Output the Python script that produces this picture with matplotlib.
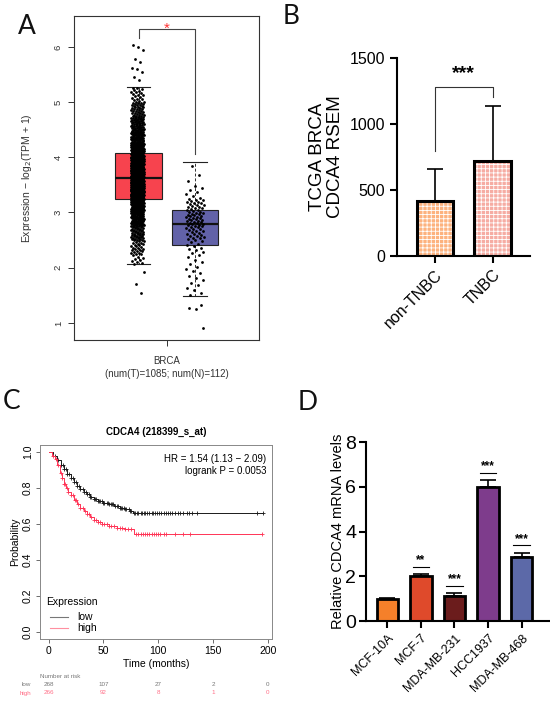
import numpy as np
import matplotlib
matplotlib.use('Agg')
import matplotlib.pyplot as plt
from matplotlib.transforms import blended_transform_factory

plt.rcParams['font.family'] = ['Liberation Sans', 'DejaVu Sans']
plt.rcParams['hatch.linewidth'] = 0.6

# ---------------- Panel A data ----------------
a_groups = ['Tumor', 'Normal']
a_q1 = [3.25, 2.42]
a_med = [3.62, 2.79]
a_q3 = [4.07, 3.05]
a_whislo = [2.06, 1.48]
a_whishi = [5.27, 3.92]
tumor_core_edges = [2.06, 2.25, 2.5, 2.75, 3.0, 3.25, 3.5, 3.75, 4.0, 4.25, 4.5, 4.75, 5.0, 5.27]
tumor_core_counts = [10, 25, 45, 80, 108, 185, 170, 150, 110, 80, 55, 35, 19]
tumor_outliers = [1.55, 1.70, 1.93, 5.40, 5.45, 5.55, 5.60, 5.62, 5.72, 5.78, 5.95, 6.00, 6.03]
normal_core_edges = [1.48, 1.75, 2.0, 2.25, 2.5, 2.75, 3.0, 3.25, 3.5, 3.75, 3.92]
normal_core_counts = [6, 6, 6, 10, 20, 28, 22, 7, 2, 1]
normal_outliers = [0.90, 1.25, 1.27, 1.32]
a_xlabel = 'BRCA\n(num(T)=1085; num(N)=112)'

# ---------------- Panel B data ----------------
b_cats = ['non-TNBC', 'TNBC']
b_means = [420, 720]
b_err = [237, 415]
b_colors = ['#FDB27E', '#F6ACA3']

# ---------------- Panel C data ----------------
low_t = [0, 4, 8, 11, 14, 17, 20, 23, 26, 29, 32, 35, 38, 41, 45, 50, 55, 60, 65, 70, 74, 77]
low_s = [1.0, 0.98, 0.955, 0.93, 0.905, 0.88, 0.855, 0.835, 0.81, 0.795, 0.78, 0.765, 0.75,
         0.738, 0.728, 0.718, 0.71, 0.70, 0.69, 0.682, 0.675, 0.663]
high_t = [0, 3, 6, 8, 10, 12, 14, 16, 18, 20, 23, 26, 29, 32, 35, 38, 41, 45, 49, 55, 62, 70, 78]
high_s = [1.0, 0.98, 0.96, 0.93, 0.885, 0.855, 0.825, 0.80, 0.78, 0.76, 0.735, 0.71, 0.69,
          0.67, 0.655, 0.64, 0.625, 0.61, 0.598, 0.59, 0.58, 0.57, 0.543]
low_censor = [6, 9, 11, 13, 14, 16, 17, 19, 20, 22, 23, 25, 26, 28, 29, 31, 32, 34, 35, 37, 38,
              39, 41, 42, 43, 45, 46, 47, 49, 50, 51, 53, 54, 55, 57, 58, 59, 61, 62, 63, 65, 66,
              67, 69, 70, 71, 73, 74, 75, 78, 79, 81, 82, 84, 85, 87, 88, 90, 92, 94, 95, 97, 99,
              101, 103, 105, 107, 109, 111, 113, 115, 118, 120, 123, 126, 128, 131, 135, 190, 196]
high_censor = [4, 7, 9, 11, 12, 14, 15, 17, 18, 20, 22, 24, 25, 27, 29, 31, 33, 35, 37, 39, 41,
               43, 45, 47, 49, 51, 53, 55, 57, 60, 62, 65, 67, 70, 72, 75, 80, 82, 84, 86, 88,
               90, 92, 94, 96, 98, 100, 102, 105, 107, 115, 123, 129, 195]
risk_times = [0, 50, 100, 150, 200]
risk_low = [268, 107, 27, 2, 0]
risk_high = [266, 92, 8, 1, 0]
c_title = 'CDCA4 (218399_s_at)'
c_hr = 'HR = 1.54 (1.13 \u2212 2.09)\nlogrank P = 0.0053'

# ---------------- Panel D data ----------------
d_cells = ['MCF-10A', 'MCF-7', 'MDA-MB-231', 'HCC1937', 'MDA-MB-468']
d_means = [1.0, 2.02, 1.13, 5.97, 2.87]
d_err = [0.04, 0.07, 0.10, 0.33, 0.18]
d_sig = ['', '**', '***', '***', '***']
d_colors = ['#F5802A', '#DF4A2B', '#6B1C1C', '#7E3C8C', '#5C69A8']

W, H = 550, 706
fig = plt.figure(figsize=(W / 100, H / 100), dpi=100)


def rect(l, t, r, b):
    return [l / W, 1 - b / H, (r - l) / W, (b - t) / H]


label_kw = dict(fontsize=19, family=['Lato', 'Open Sans', 'DejaVu Sans'], fontweight='normal',
                ha='center', va='center', color='#111111')
fig.text(27 / W, 1 - 27 / H, 'A', **label_kw)
fig.text(291 / W, 1 - 17 / H, 'B', **label_kw)
fig.text(12 / W, 1 - 402 / H, 'C', **label_kw)
fig.text(308 / W, 1 - 403 / H, 'D', **label_kw)

# ================= Panel A =================
axA = fig.add_axes(rect(74, 16, 259, 340))
pos = [1, 2]
stats = []
for i in range(2):
    stats.append(dict(med=a_med[i], q1=a_q1[i], q3=a_q3[i], whislo=a_whislo[i],
                      whishi=a_whishi[i], fliers=[], label=a_groups[i]))
bp = axA.bxp(stats, positions=pos, widths=0.83, patch_artist=True, showfliers=False,
             capwidths=0.42,
             boxprops=dict(linewidth=0.8, edgecolor='#222222'),
             medianprops=dict(color='#111111', linewidth=1.6),
             whiskerprops=dict(color='#333333', linewidth=0.7, linestyle=(0, (3, 2))),
             capprops=dict(color='#222222', linewidth=0.8))
for patch, c in zip(bp['boxes'], ['#F7434E', '#6262A8']):
    patch.set_facecolor(c)


def strip_points(edges, counts, outliers):
    ys = []
    for k in range(len(counts)):
        lo, hi = edges[k], edges[k + 1]
        n = counts[k]
        for j in range(n):
            ys.append(lo + (j + 0.5) / n * (hi - lo))
    ys.extend(outliers)
    return np.array(ys)


phi = 0.6180339887
for edges, counts, outl, jw, cx in [(tumor_core_edges, tumor_core_counts, tumor_outliers, 0.115, 0.98),
                                    (normal_core_edges, normal_core_counts, normal_outliers, 0.16, 2.0)]:
    ys = strip_points(edges, counts, outl)
    idx = np.arange(len(ys))
    frac = (idx * phi + 0.21) % 1.0
    xs = cx + (frac * 2 - 1) * jw
    axA.plot(xs, ys, 'o', color='black', markersize=2.0, markeredgewidth=0, zorder=5)

axA.plot([1, 1, 2, 2], [6.16, 6.33, 6.33, 4.06], color='#444444', linewidth=0.8, zorder=6)
axA.text(1.5, 6.33, '*', color='#FF3030', fontsize=11, ha='center', va='center', zorder=7)
axA.set_xlim(-0.142, 3.133)
axA.set_ylim(0.69, 6.56)
axA.set_xticks([1.5])
axA.set_xticklabels([''])
axA.set_yticks([1, 2, 3, 4, 5, 6])
axA.set_yticklabels(['1', '2', '3', '4', '5', '6'], rotation=90, va='center')
axA.tick_params(axis='both', labelsize=6.8, length=4, width=0.7, color='#333333',
                labelcolor='#333333', pad=4)
for sp in axA.spines.values():
    sp.set_linewidth(0.8)
    sp.set_color('#333333')
axA.set_ylabel('Expression \u2212 log$_2$(TPM + 1)', fontsize=7.5, color='#333333', labelpad=14)
axA.text(1.5, -0.05, a_xlabel, transform=blended_transform_factory(axA.transData, axA.transAxes),
         ha='center', va='top', fontsize=7, color='#333333', linespacing=1.35)

# ================= Panel B =================
axB = fig.add_axes(rect(397, 58, 530, 256))
bx = np.arange(len(b_cats))
axB.bar(bx, b_means, width=0.63, color=b_colors, edgecolor='white', hatch='++++', linewidth=0,
        zorder=2)
axB.bar(bx, b_means, width=0.63, fill=False, edgecolor='black', linewidth=2.2, zorder=3)
axB.errorbar(bx, b_means, yerr=[[0] * len(b_err), b_err], fmt='none', ecolor='black',
             elinewidth=1.2, capsize=5.5, capthick=1.2, zorder=1)
axB.plot([0, 0, 1, 1], [795, 1280, 1280, 1205], color='#333333', linewidth=0.8)
axB.text(0.5, 1385, '***', ha='center', va='center', fontsize=14, fontweight='bold')
axB.set_xlim(-0.66, 1.65)
axB.set_ylim(0, 1500)
axB.set_yticks([0, 500, 1000, 1500])
axB.set_xticks(bx)
axB.set_xticklabels(b_cats, rotation=45, ha='right', rotation_mode='anchor')
axB.tick_params(axis='both', labelsize=11.5, length=5, width=1.5, direction='out')
axB.tick_params(axis='x', pad=3)
for s in ['top', 'right']:
    axB.spines[s].set_visible(False)
for s in ['left', 'bottom']:
    axB.spines[s].set_linewidth(1.5)
axB.set_ylabel('TCGA BRCA\nCDCA4 RSEM', fontsize=13.5, labelpad=4, linespacing=1.05)

# ================= Panel C =================
axC = fig.add_axes(rect(40, 445, 272, 639))


def step_val(ts, ss, c):
    v = ss[0]
    for t, s in zip(ts, ss):
        if t <= c:
            v = s
    return v


for ts, ss, cens, col in [(low_t, low_s, low_censor, '#1a1a1a'), (high_t, high_s, high_censor, '#FF3355')]:
    end = max(cens)
    axC.step(list(ts) + [end], list(ss) + [ss[-1]], where='post', color=col, linewidth=0.7)
    cy = [step_val(ts, ss, c) for c in cens]
    axC.plot(cens, cy, '+', color=col, markersize=3.2, markeredgewidth=0.6)

axC.set_xlim(-7.84, 203.84)
axC.set_ylim(-0.04, 1.04)
axC.set_xticks([0, 50, 100, 150, 200])
axC.set_yticks([0, 0.2, 0.4, 0.6, 0.8, 1.0])
axC.set_yticklabels(['0.0', '0.2', '0.4', '0.6', '0.8', '1.0'], rotation=90, va='center')
axC.tick_params(axis='both', labelsize=7.5, length=3, width=0.6, color='#555555', pad=2)
for sp in axC.spines.values():
    sp.set_linewidth(0.7)
    sp.set_color('#888888')
axC.set_xlabel('Time (months)', fontsize=7.5, labelpad=2)
axC.set_ylabel('Probability', fontsize=7.5, labelpad=2)
axC.set_title(c_title, fontsize=7, fontweight='bold', pad=7)
axC.text(198.8, 0.99, c_hr, ha='right', va='top', fontsize=7, linespacing=1.25)
axC.text(-2.7, 0.167, 'Expression', ha='left', va='center', fontsize=7.5)
axC.plot([1, 18], [0.085, 0.085], color='#777777', linewidth=0.8)
axC.plot([1, 18], [0.022, 0.022], color='#FF8FA0', linewidth=0.8)
axC.text(26, 0.085, 'low', ha='left', va='center', fontsize=7.5)
axC.text(26, 0.022, 'high', ha='left', va='center', fontsize=7.5)
trC = blended_transform_factory(axC.transData, fig.transFigure)
axC.text(-7.5, 1 - 676 / H, 'Number at risk', transform=trC, fontsize=4.5, color='#777777',
         ha='left', va='center')
axC.text(-16, 1 - 685 / H, 'low', transform=trC, fontsize=4.5, color='#777777', ha='right', va='center')
axC.text(-16, 1 - 693 / H, 'high', transform=trC, fontsize=4.5, color='#FF7088', ha='right', va='center')
for t, lo, hi in zip(risk_times, risk_low, risk_high):
    axC.text(t, 1 - 685 / H, str(lo), transform=trC, fontsize=4.5, color='#777777', ha='center', va='center')
    axC.text(t, 1 - 693 / H, str(hi), transform=trC, fontsize=4.5, color='#FF7088', ha='center', va='center')

# ================= Panel D =================
axD = fig.add_axes(rect(366, 442, 550, 621))
dx = np.arange(len(d_cells))
axD.bar(dx, d_means, width=0.63, color=d_colors, edgecolor='black', linewidth=2.0, zorder=2)
axD.errorbar(dx, d_means, yerr=[[0] * len(d_err), d_err], fmt='none', ecolor='black',
             elinewidth=1.2, capsize=5.5, capthick=1.2, zorder=1)
for x, m, e, s in zip(dx, d_means, d_err, d_sig):
    if s:
        ly = m + e + 0.33
        axD.plot([x - 0.25, x + 0.25], [ly, ly], color='black', linewidth=0.8)
        axD.text(x, ly + 0.02, s, ha='center', va='bottom', fontsize=8.5, fontweight='bold')
axD.set_xlim(-0.64, 4.85)
axD.set_ylim(0, 8)
axD.set_yticks([0, 2, 4, 6, 8])
axD.set_xticks(dx)
axD.set_xticklabels(d_cells, rotation=45, ha='right', rotation_mode='anchor')
axD.tick_params(axis='y', labelsize=14, length=5, width=1.5, pad=2)
axD.tick_params(axis='x', labelsize=9, length=5, width=1.5, pad=3)
for s in ['top', 'right']:
    axD.spines[s].set_visible(False)
for s in ['left', 'bottom']:
    axD.spines[s].set_linewidth(1.5)
axD.set_ylabel('Relative CDCA4 mRNA levels', fontsize=10.5, labelpad=0)

fig.savefig('out.png', dpi=100)
